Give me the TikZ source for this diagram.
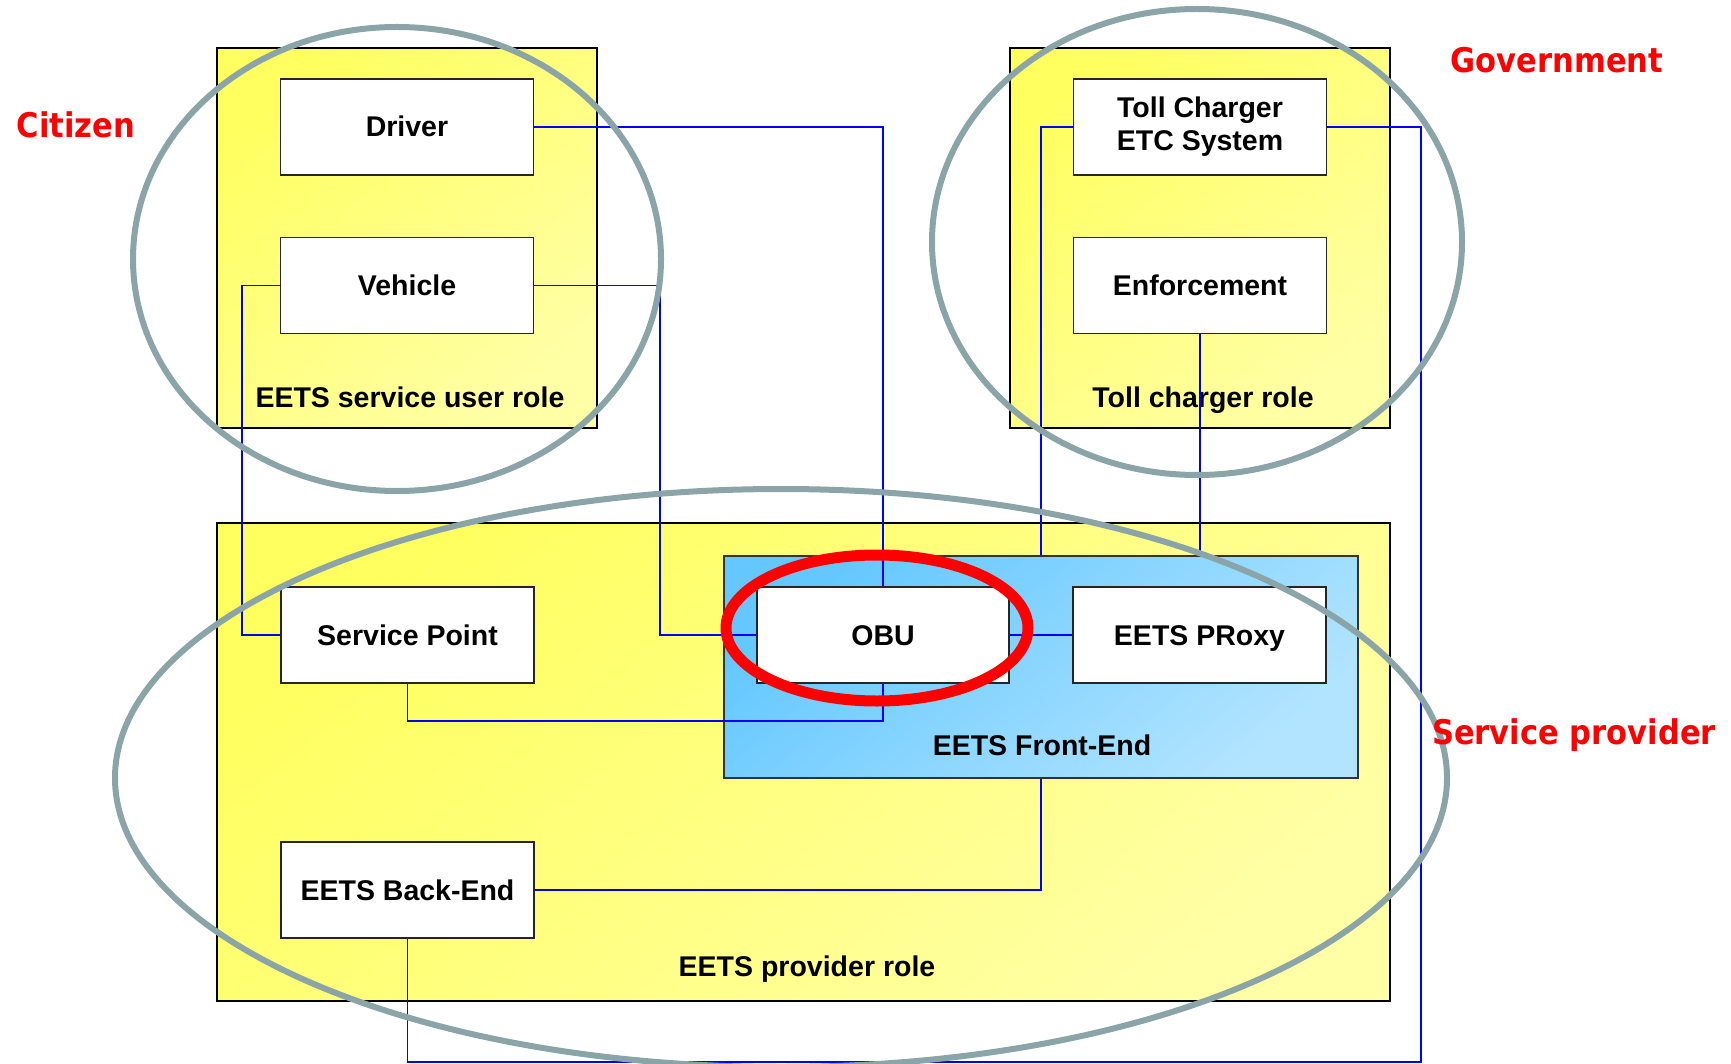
\documentclass[tikz,border=0pt]{standalone}
\usepackage{fontspec}
\setmainfont{Liberation Sans}
\newfontfamily\actorfont{DejaVu Sans Condensed}
\usepackage{tikz}
\definecolor{roleyellow}{RGB}{255,255,96}
\definecolor{roleyellowlight}{RGB}{255,255,165}
\definecolor{frontblue}{RGB}{100,200,255}
\definecolor{frontbluelight}{RGB}{178,228,255}
\definecolor{linkblue}{RGB}{0,0,255}
\definecolor{groupgrey}{RGB}{138,164,167}
\definecolor{actorred}{RGB}{255,0,0}

\pgfdeclarelayer{areas}
\pgfdeclarelayer{links}
\pgfsetlayers{areas,links,main}

\tikzset{
  rolebox/.style={draw=black, line width=1.2pt, top color=roleyellow, bottom color=roleyellowlight, shading angle=40, inner sep=0pt},
  frontbox/.style={draw=black!80, line width=1.2pt, top color=frontblue, bottom color=frontbluelight, shading angle=40, inner sep=0pt},
  entitybase/.style={draw=black!85, line width=1.5pt, fill=white, minimum width=253pt, minimum height=96pt,
    font=\fontsize{28.5}{33}\selectfont\bfseries},
  entity/.style={entitybase, text height=21pt, text depth=1pt},
  rolelabel/.style={font=\fontsize{28.5}{33}\selectfont\bfseries, text height=21pt, text depth=1pt},
  link/.style={draw=linkblue, line width=1.6pt},
  group/.style={draw=groupgrey, line width=6pt},
  actor/.style={text=actorred, font=\actorfont\bfseries\fontsize{34}{40}\selectfont}
}

\begin{document}
\begin{tikzpicture}[x=1pt, y=-1pt]
  \useasboundingbox (0,0) rectangle (1731,1064);

  % role areas
  \begin{pgfonlayer}{areas}
    \node[rolebox, minimum width=380pt, minimum height=380pt] (userrole) at (407,238) {};
    \node[rolebox, minimum width=380pt, minimum height=380pt] (tollrole) at (1200,238) {};
    \node[rolebox, minimum width=1173pt, minimum height=478pt] (providerrole) at (803.5,762) {};
    \node[frontbox, minimum width=634pt, minimum height=222pt] (frontend) at (1041,667) {};

    \node[rolelabel] (userlabel) at (410,397) {EETS service user role};
    \node[rolelabel] (tolllabel) at (1203,397) {Toll charger role};
    \node[rolelabel] (providerlabel) at (807,966) {EETS provider role};
    \node[rolelabel] (frontlabel) at (1042,745) {EETS Front-End};
  \end{pgfonlayer}

  % entities
  \node[entity] (driver) at (407,127) {Driver};
  \node[entity] (vehicle) at (407,285.5) {Vehicle};
  \node[entitybase, align=center] (tollcharger) at (1200,127) {Toll Charger\\ETC System};
  \node[entity] (enforcement) at (1200,285.5) {Enforcement};
  \node[entity] (servicepoint) at (407.5,635) {Service Point};
  \node[entity, minimum width=252pt] (obu) at (883,635) {OBU};
  \node[entity] (proxy) at (1199.5,635) {EETS PRoxy};
  \node[entity] (backend) at (407.5,890) {EETS Back-End};

  \coordinate (lowright) at (1421,1062);

  % connections
  \begin{pgfonlayer}{links}
    \draw[link] (driver.east) -| (obu.north);
    \draw[link] (vehicle.west) -- ++(-38,0) |- (servicepoint.west);
    \draw[link] (vehicle.east) -| ([xshift=-96pt]obu.west) -- (obu.west);
    \draw[link] (servicepoint.south) -- ++(0,37) -| (obu.south);
    \draw[link] (obu.east) -- (proxy.west);
    \draw[link] (tollcharger.west) -| (frontend.north);
    \draw[link] (enforcement.south) -- (enforcement.south |- frontend.north);
    \draw[link] (tollcharger.east) -| (lowright) -| (backend.south);
    \draw[link] (backend.east) -| (frontend.south);
  \end{pgfonlayer}

  % stakeholder groups
  \draw[group] (397,259) ellipse [x radius=264pt, y radius=232pt];
  \draw[group] (1197,242) ellipse [x radius=265pt, y radius=233pt];
  \draw[group] (781,778) ellipse [x radius=666pt, y radius=289pt];
  \draw[draw=actorred, line width=11pt] (877,628) ellipse [x radius=151pt, y radius=73pt];

  \node[actor] (citizen) at (76,125) {Citizen};
  \node[actor] (government) at (1557,60) {Government};
  \node[actor] (serviceprovider) at (1574,735) {Service provider};
\end{tikzpicture}
\end{document}
